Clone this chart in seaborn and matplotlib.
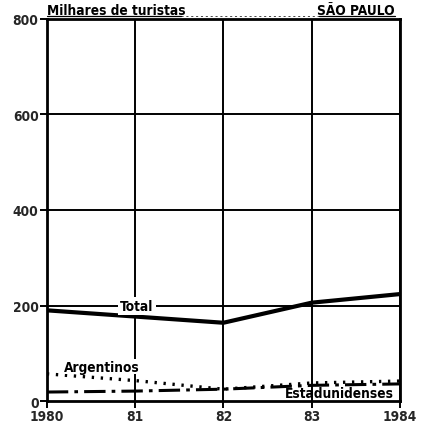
import pandas as pd
import matplotlib.pyplot as plt
import seaborn as sns

# dados (milhares de turistas)
anos = [1980, 1981, 1982, 1983, 1984]
anos_rotulos = ['1980', '81', '82', '83', '1984']
total = [190, 177, 164, 206, 224]
argentinos = [57, 43, 25, 38, 42]
estadunidenses = [19, 21, 25, 33, 36]

df = pd.DataFrame({
    'ano': anos * 3,
    'turistas': total + argentinos + estadunidenses,
    'serie': ['Total'] * 5 + ['Argentinos'] * 5 + ['Estadunidenses'] * 5,
})

sns.set_style('white')
plt.rcParams['font.family'] = ['DejaVu Sans']
plt.rcParams['font.stretch'] = 'condensed'

fig = plt.figure(figsize=(4.3, 4.31), dpi=100)
ax = fig.add_axes([0.109, 0.067, 0.821, 0.887])

# grade
for a in anos:
    ax.axvline(a, color='black', lw=1.4, zorder=1)
for v in [200, 400, 600, 800]:
    ax.axhline(v, color='black', lw=1.4, zorder=1)

sns.lineplot(data=df[df['serie'] == 'Total'], x='ano', y='turistas',
             color='black', lw=3, ax=ax, zorder=3)
sns.lineplot(data=df[df['serie'] == 'Argentinos'], x='ano', y='turistas',
             color='black', lw=2.4, ax=ax, zorder=3, linestyle=(0, (0.7, 2.0)))
sns.lineplot(data=df[df['serie'] == 'Estadunidenses'], x='ano', y='turistas',
             color='black', lw=2.2, ax=ax, zorder=3, linestyle=(0, (7, 2, 1.2, 2)))

ax.set_xlim(1980, 1984)
ax.set_ylim(0, 800)
ax.set_xticks(anos)
ax.set_xticklabels(anos_rotulos)
ax.set_yticks([0, 200, 400, 600, 800])
ax.set_xlabel('')
ax.set_ylabel('')
for s in ax.spines.values():
    s.set_visible(True)
    s.set_color('black')
    s.set_linewidth(2)
ax.tick_params(axis='both', length=5, width=1.4, color='black', direction='out',
               labelsize=9.8, pad=1, bottom=True, left=True)
for t in ax.get_xticklabels() + ax.get_yticklabels():
    t.set_fontweight('bold')
    t.set_fontstretch('condensed')

txt = dict(fontsize=9.8, fontweight='semibold', color='black', fontstretch='condensed')
ax.text(1981.02, 200, 'Total', ha='center', va='center',
        bbox=dict(facecolor='white', edgecolor='none', pad=1.5), zorder=4, **txt)
ax.text(1980.19, 72, 'Argentinos', ha='left', va='center',
        bbox=dict(facecolor='white', edgecolor='none', pad=0.5), zorder=4, **txt)
ax.text(1983.93, 3, 'Estadunidenses', ha='right', va='bottom', zorder=4, **txt)

ax.text(0.0, 1.012, 'Milhares de turistas', transform=ax.transAxes,
        ha='left', va='baseline', **txt)
ax.text(0.985, 1.012, 'SÃO PAULO', transform=ax.transAxes,
        ha='right', va='baseline', **txt)
# sublinhados
ax.plot([0.0, 0.38], [1.007, 1.007], transform=ax.transAxes, color='black',
        lw=0.9, clip_on=False)
ax.plot([0.38, 0.77], [1.007, 1.007], transform=ax.transAxes, color='black',
        lw=0.5, clip_on=False, linestyle=(0, (3, 4)))
ax.plot([0.77, 0.985], [1.007, 1.007], transform=ax.transAxes, color='black',
        lw=0.9, clip_on=False)

fig.savefig('out.png', dpi=100)
